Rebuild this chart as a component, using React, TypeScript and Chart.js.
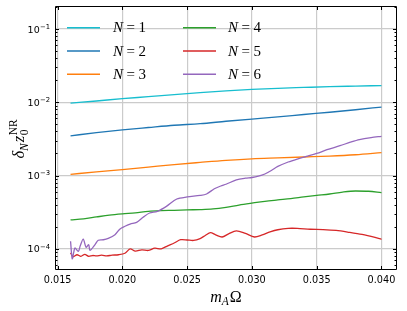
import React, { useEffect, useRef } from "react";
import { Chart, registerables } from "chart.js";

Chart.register(...registerables);

// ---------- data ----------
const smoothX = [0.016, 0.018, 0.02, 0.022, 0.024, 0.026, 0.028, 0.03, 0.032, 0.034, 0.036, 0.038, 0.04];
const n1Values = [0.0097, 0.0104, 0.0112, 0.0119, 0.0127, 0.0135, 0.0143, 0.015, 0.0155, 0.0159, 0.0163, 0.0166, 0.0169];
const n2Values = [0.00348, 0.00385, 0.0042, 0.00452, 0.00485, 0.0051, 0.0055, 0.0059, 0.0063, 0.0068, 0.0073, 0.0079, 0.0086];
const n3Values = [0.00104, 0.00112, 0.0012, 0.0013, 0.00141, 0.00151, 0.00161, 0.00169, 0.00174, 0.00179, 0.00184, 0.00192, 0.00205];

const n4X = [0.016, 0.017, 0.018, 0.019, 0.02, 0.021, 0.022, 0.023, 0.024, 0.025, 0.026, 0.027, 0.028, 0.029, 0.03, 0.031, 0.032, 0.033, 0.034, 0.035, 0.036, 0.037, 0.038, 0.039, 0.04];
const n4Values = [2.48e-4, 2.56e-4, 2.72e-4, 2.88e-4, 3.0e-4, 3.1e-4, 3.25e-4, 3.32e-4, 3.35e-4, 3.4e-4, 3.43e-4, 3.5e-4, 3.68e-4, 3.95e-4, 4.2e-4, 4.45e-4, 4.65e-4, 4.85e-4, 5.1e-4, 5.35e-4, 5.6e-4, 5.95e-4, 6.15e-4, 6.1e-4, 5.85e-4];

const n5X = [0.016, 0.0162, 0.0165, 0.0168, 0.0171, 0.0174, 0.0177, 0.018, 0.0184, 0.0188, 0.0192, 0.0197, 0.0202, 0.0206, 0.021, 0.0215, 0.022, 0.0225, 0.023, 0.0235, 0.024, 0.0245, 0.025, 0.0255, 0.026, 0.0264, 0.0268, 0.0272, 0.0277, 0.0282, 0.0288, 0.0295, 0.0302, 0.0308, 0.0314, 0.032, 0.0328, 0.0335, 0.0345, 0.0355, 0.0365, 0.0375, 0.0385, 0.0395, 0.04];
const n5Values = [8.8e-5, 7.8e-5, 8.3e-5, 7.9e-5, 8.4e-5, 7.9e-5, 8.1e-5, 8.0e-5, 8.2e-5, 8.0e-5, 8.2e-5, 8.3e-5, 8.7e-5, 1.0e-4, 9.3e-5, 9.7e-5, 9.5e-5, 1.02e-4, 1.0e-4, 1.1e-4, 1.2e-4, 1.33e-4, 1.32e-4, 1.3e-4, 1.38e-4, 1.52e-4, 1.66e-4, 1.55e-4, 1.45e-4, 1.6e-4, 1.76e-4, 1.62e-4, 1.45e-4, 1.55e-4, 1.7e-4, 1.82e-4, 1.9e-4, 1.9e-4, 1.85e-4, 1.83e-4, 1.78e-4, 1.68e-4, 1.57e-4, 1.43e-4, 1.35e-4];

const n6X = [0.016, 0.01613, 0.01625, 0.01634, 0.0166, 0.01675, 0.01698, 0.0172, 0.0174, 0.0175, 0.01789, 0.01814, 0.01853, 0.01891, 0.01943, 0.01982, 0.0202, 0.0206, 0.0211, 0.0216, 0.0221, 0.0227, 0.0234, 0.0242, 0.025, 0.026, 0.0265, 0.0271, 0.0276, 0.028, 0.0288, 0.0295, 0.03, 0.0305, 0.031, 0.0315, 0.032, 0.0328, 0.0335, 0.0342, 0.035, 0.0358, 0.0368, 0.0376, 0.0383, 0.0392, 0.04];
const n6Values = [1.27e-4, 7.3e-5, 9.0e-5, 1.03e-4, 9.2e-5, 1.1e-4, 1.36e-4, 1.05e-4, 1.14e-4, 9.5e-5, 1.14e-4, 1.31e-4, 1.33e-4, 1.39e-4, 1.56e-4, 1.87e-4, 2.03e-4, 2.18e-4, 2.3e-4, 2.69e-4, 3.08e-4, 3.24e-4, 3.79e-4, 4.78e-4, 5.1e-4, 5.35e-4, 5.6e-4, 6.6e-4, 7.2e-4, 7.6e-4, 8.7e-4, 9.2e-4, 9.4e-4, 9.8e-4, 1.05e-3, 1.17e-3, 1.33e-3, 1.53e-3, 1.68e-3, 1.82e-3, 2.0e-3, 2.25e-3, 2.55e-3, 2.85e-3, 3.1e-3, 3.3e-3, 3.42e-3];

const seriesLabels = ["1", "2", "3", "4", "5", "6"];
const seriesColors = ["#17becf", "#1f77b4", "#ff7f0e", "#2ca02c", "#d62728", "#9467bd"];

const xTicks = [0.015, 0.02, 0.025, 0.03, 0.035, 0.04];
const yTickExponents = [-4, -3, -2, -1];
const xLimits = [0.0148, 0.0412];
const yLogLimits = [-4.289, -0.687];

// ---------- helpers ----------
const pts = (xs: number[], ys: number[]) => ys.map((y, i) => ({ x: xs[i], y }));

const SERIF = "'Liberation Serif', 'DejaVu Serif', serif";
const SANS = "'DejaVu Sans', sans-serif";

const overlayPlugin = {
  id: "overlay",
  afterDraw(chart: any) {
    const ctx: CanvasRenderingContext2D = chart.ctx;
    const a = chart.chartArea;
    const xs = chart.scales.x;
    const ys = chart.scales.y;
    ctx.save();

    // inward tick marks
    ctx.strokeStyle = "#000";
    ctx.lineWidth = 1;
    const L = Math.round(a.left) + 0.5;
    const R = Math.round(a.right) - 0.5;
    const T = Math.round(a.top) + 0.5;
    const B = Math.round(a.bottom) - 0.5;
    ctx.beginPath();
    xTicks.forEach((v) => {
      const p = Math.round(xs.getPixelForValue(v)) + 0.5;
      ctx.moveTo(p, B);
      ctx.lineTo(p, B - 3.5);
      ctx.moveTo(p, T);
      ctx.lineTo(p, T + 3.5);
    });
    for (let e = -5; e <= 0; e++) {
      for (let m = 1; m <= 9; m++) {
        const val = m * Math.pow(10, e);
        const lv = Math.log10(val);
        if (lv < yLogLimits[0] || lv > yLogLimits[1]) continue;
        const p = Math.round(ys.getPixelForValue(val)) + 0.5;
        const len = m === 1 ? 3.5 : 2;
        ctx.moveTo(L, p);
        ctx.lineTo(L + len, p);
        ctx.moveTo(R, p);
        ctx.lineTo(R - len, p);
      }
    }
    ctx.stroke();

    // frame
    ctx.beginPath();
    ctx.rect(L, T, R - L, B - T);
    ctx.stroke();

    ctx.fillStyle = "#000";
    // x tick labels
    ctx.font = `9.7px ${SANS}`;
    ctx.textAlign = "center";
    ctx.textBaseline = "alphabetic";
    xTicks.forEach((v) => {
      ctx.fillText(v.toFixed(3), xs.getPixelForValue(v), 282.5);
    });

    // y tick labels (10^e)
    ctx.textAlign = "left";
    yTickExponents.forEach((e) => {
      const p = ys.getPixelForValue(Math.pow(10, e));
      const base = "10";
      const sup = "\u2212" + String(-e);
      ctx.font = `9.5px ${SANS}`;
      const wb = ctx.measureText(base).width;
      ctx.font = `6.8px ${SANS}`;
      const ws = ctx.measureText(sup).width;
      const x0 = 50 - wb - ws - 0.3;
      ctx.font = `9.5px ${SANS}`;
      ctx.fillText(base, x0, p + 3.6);
      ctx.font = `6.8px ${SANS}`;
      ctx.fillText(sup, x0 + wb + 0.3, p - 0.3);
    });

    // x axis title: m_A Ω
    {
      const big = 16, small = 11.5;
      ctx.font = `italic ${big}px ${SERIF}`;
      const wm = ctx.measureText("m").width;
      ctx.font = `italic ${small}px ${SERIF}`;
      const wa = ctx.measureText("A").width;
      ctx.font = `${big}px ${SERIF}`;
      const wo = ctx.measureText("\u03A9").width;
      const total = wm + wa + wo + 1;
      let x = (a.left + a.right) / 2 - total / 2;
      const by = 301.5;
      ctx.font = `italic ${big}px ${SERIF}`;
      ctx.fillText("m", x, by);
      x += wm;
      ctx.font = `italic ${small}px ${SERIF}`;
      ctx.fillText("A", x, by + 3.5);
      x += wa + 1;
      ctx.font = `${big}px ${SERIF}`;
      ctx.fillText("\u03A9", x, by);
    }

    // y axis title: δ_N z_0^NR (rotated)
    {
      const big = 16.5, small = 11.5;
      ctx.font = `italic ${big}px ${SERIF}`;
      const wd = ctx.measureText("\u03B4").width;
      const wz = ctx.measureText("z").width;
      ctx.font = `italic ${small}px ${SERIF}`;
      const wn = ctx.measureText("N").width;
      ctx.font = `${small}px ${SERIF}`;
      const w0 = ctx.measureText("0").width;
      const wnr = ctx.measureText("NR").width;
      const total = wd + wn + 1 + wz + 0.5 + Math.max(w0, wnr);
      const cy = (a.top + a.bottom) / 2 + 1;
      ctx.save();
      ctx.translate(24, cy);
      ctx.rotate(-Math.PI / 2);
      let u = -total / 2;
      ctx.font = `italic ${big}px ${SERIF}`;
      ctx.fillText("\u03B4", u, 0);
      u += wd;
      ctx.font = `italic ${small}px ${SERIF}`;
      ctx.fillText("N", u, 3.5);
      u += wn + 1;
      ctx.font = `italic ${big}px ${SERIF}`;
      ctx.fillText("z", u, 0);
      u += wz + 0.5;
      ctx.font = `${small}px ${SERIF}`;
      ctx.fillText("0", u, 3.5);
      ctx.fillText("NR", u, -7.5);
      ctx.restore();
    }

    // legend (two columns, three rows)
    const rowY = [27.7, 51, 74.3];
    const colLine = [[67, 100], [183, 216]];
    const colText = [113, 228];
    const fs = 15;
    seriesLabels.forEach((lab, i) => {
      const col = i < 3 ? 0 : 1;
      const row = i % 3;
      const y = rowY[row];
      ctx.strokeStyle = seriesColors[i];
      ctx.lineWidth = 1.5;
      ctx.beginPath();
      ctx.moveTo(colLine[col][0], y);
      ctx.lineTo(colLine[col][1], y);
      ctx.stroke();
      ctx.fillStyle = "#000";
      let x = colText[col];
      const by = y + 4.7;
      ctx.font = `italic ${fs}px ${SERIF}`;
      ctx.fillText("N", x, by);
      x += ctx.measureText("N").width + 3.5;
      ctx.font = `${fs}px ${SERIF}`;
      ctx.fillText("=", x, by);
      x += ctx.measureText("=").width + 3.5;
      ctx.fillText(lab, x, by);
    });

    ctx.restore();
  },
};

export default function App() {
  const canvasRef = useRef<HTMLCanvasElement | null>(null);

  useEffect(() => {
    const canvas = canvasRef.current;
    if (!canvas) return;
    const seriesData = [
      pts(smoothX, n1Values),
      pts(smoothX, n2Values),
      pts(smoothX, n3Values),
      pts(n4X, n4Values),
      pts(n5X, n5Values),
      pts(n6X, n6Values),
    ];
    const chart = new Chart(canvas, {
      type: "line",
      data: {
        datasets: seriesData.map((d, i) => ({
          label: "N = " + seriesLabels[i],
          data: d,
          borderColor: seriesColors[i],
          backgroundColor: seriesColors[i],
          borderWidth: 1.3,
          pointRadius: 0,
          fill: false,
          tension: i < 4 ? 0.4 : 0.3,
          cubicInterpolationMode: i < 4 ? "monotone" : "default",
          order: 6 - i,
        })),
      },
      options: {
        animation: false,
        responsive: false,
        maintainAspectRatio: false,
        layout: { padding: { left: 0, top: 6, right: 10, bottom: 0 } },
        plugins: { legend: { display: false }, tooltip: { enabled: false } },
        scales: {
          x: {
            type: "linear",
            min: xLimits[0],
            max: xLimits[1],
            afterBuildTicks: (s: any) => {
              s.ticks = xTicks.map((v) => ({ value: v }));
            },
            afterFit: (s: any) => {
              s.height = 41;
            },
            ticks: { display: false },
            grid: { color: "#cbcbcb", lineWidth: 1.2, drawTicks: false },
            border: { display: false },
          },
          y: {
            type: "logarithmic",
            min: Math.pow(10, yLogLimits[0]),
            max: Math.pow(10, yLogLimits[1]),
            afterBuildTicks: (s: any) => {
              s.ticks = yTickExponents.map((e) => ({ value: Math.pow(10, e) }));
            },
            afterFit: (s: any) => {
              s.width = 55;
            },
            ticks: { display: false },
            grid: { color: "#cbcbcb", lineWidth: 1.2, drawTicks: false },
            border: { display: false },
          },
        },
      } as any,
      plugins: [overlayPlugin],
    });
    return () => chart.destroy();
  }, []);

  return (
    <div style={{ position: "fixed", left: 0, top: 0, width: 407, height: 311, background: "#fff" }}>
      <canvas ref={canvasRef} width={407} height={311} style={{ display: "block", width: 407, height: 311 }} />
    </div>
  );
}
